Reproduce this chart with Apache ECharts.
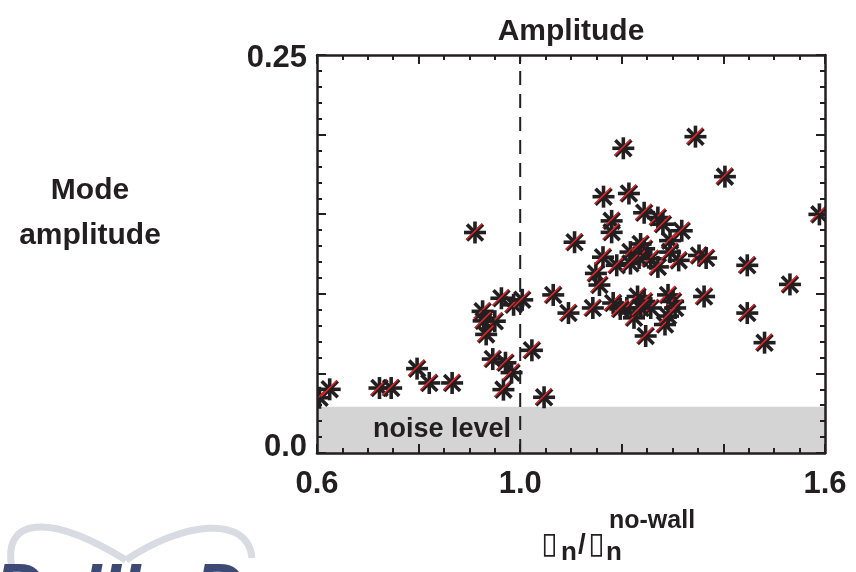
<!DOCTYPE html>
<html>
<head>
<meta charset="utf-8">
<script src="https://cdn.jsdelivr.net/npm/echarts@6/dist/echarts.min.js"></script>
<style>html,body{margin:0;padding:0;background:#fff;}#c{width:856px;height:572px;}</style>
</head>
<body>
<div id="c"></div>
<script>
// ---- data ----
const ratio = [
  0.605, 0.625, 0.723, 0.746, 0.797, 0.821, 0.866, 0.967, 0.983, 1.047, 1.023, 0.946, 0.971,
  0.911, 0.926, 0.950, 0.928, 0.933, 0.963, 0.987, 1.004,
  1.065, 1.095, 1.107, 1.143, 1.149, 1.156, 1.163, 1.164, 1.214, 1.203, 1.180, 1.180, 1.183,
  1.190, 1.210, 1.217, 1.224, 1.231, 1.244, 1.244, 1.244, 1.247, 1.257, 1.257, 1.271, 1.271,
  1.281, 1.285, 1.291, 1.295, 1.301, 1.305, 1.312, 1.318, 1.345, 1.352, 1.362, 1.366, 1.403,
  1.447, 1.447, 1.481, 1.531, 1.589,
  1.234, 1.217, 1.295, 1.237, 1.291, 1.197, 1.237
];
const amplitude = [
  0.0347, 0.0400, 0.0408, 0.0408, 0.0530, 0.0440, 0.0440, 0.0398, 0.0505, 0.0350, 0.0645, 0.0590, 0.0567,
  0.1385, 0.0890, 0.0828, 0.0830, 0.0745, 0.0972, 0.0931, 0.0962,
  0.0993, 0.0879, 0.1324, 0.0911, 0.1128, 0.1055, 0.1230, 0.1610, 0.1630, 0.1914, 0.1458, 0.1386, 0.0942,
  0.1179, 0.0911, 0.1262, 0.0849, 0.0983, 0.1509, 0.1283, 0.0952, 0.0735, 0.1220, 0.0911, 0.1479, 0.1169,
  0.1437, 0.0807, 0.0993, 0.1334, 0.0952, 0.0911, 0.1210, 0.1396, 0.1987, 0.1241, 0.0983, 0.1225, 0.1736,
  0.1179, 0.0879, 0.0693, 0.1059, 0.1499,
  0.1225, 0.1190, 0.1262, 0.0911, 0.0860, 0.0905, 0.1313
];
const xTickLabels = ['0.6', '1.0', '1.6'];
const yTickLabels = ['0.0', '0.25'];
const xRange = [0.6, 1.6];
const yRange = [0, 0.25];
const noiseLevel = 0.029;
const wallRatio = 1.0;

// ---- styling ----
const INK = '#231f20';
const RED = '#e3262b';
const FONT = "'Liberation Sans', Arial, Helvetica, sans-serif";

const points = ratio.map((x, i) => [x, amplitude[i]]);

function xAxisCfg(pos, showLabel) {
  return {
    type: 'value', position: pos, min: xRange[0], max: xRange[1], interval: 0.2, z: 10,
    axisLine: { show: true, onZero: false, lineStyle: { color: INK, width: 2.5 } },
    axisTick: { show: true, inside: true, length: 9, lineStyle: { color: INK, width: 2 } },
    minorTick: { show: true, splitNumber: 4, length: 5, lineStyle: { color: INK, width: 2 } },
    splitLine: { show: false },
    axisLabel: {
      show: showLabel, margin: 16, color: INK, fontFamily: FONT, fontWeight: 'bold', fontSize: 31,
      formatter: v => { const s = v.toFixed(1); return xTickLabels.includes(s) ? s : ''; }
    }
  };
}
function yAxisCfg(pos, showLabel) {
  return {
    type: 'value', position: pos, min: yRange[0], max: yRange[1], interval: 0.05, z: 10,
    axisLine: { show: true, onZero: false, lineStyle: { color: INK, width: 2.5 } },
    axisTick: { show: true, inside: true, length: 9, lineStyle: { color: INK, width: 2 } },
    minorTick: { show: true, splitNumber: 5, length: 5, lineStyle: { color: INK, width: 2 } },
    splitLine: { show: false },
    axisLabel: {
      show: showLabel, margin: 10, color: INK, fontFamily: FONT, fontWeight: 'bold', fontSize: 31,
      formatter: v => {
        if (Math.abs(v - yRange[0]) < 1e-9) return '{lo|' + yTickLabels[0] + '}';
        if (Math.abs(v - yRange[1]) < 1e-9) return '{hi|' + yTickLabels[1] + '}';
        return '';
      },
      rich: {
        lo: { padding: [0, 0, 12, 0], color: INK, fontFamily: FONT, fontWeight: 'bold', fontSize: 31 },
        hi: { padding: [6, 0, 0, 0], color: INK, fontFamily: FONT, fontWeight: 'bold', fontSize: 31 }
      }
    }
  };
}

const chart = echarts.init(document.getElementById('c'), null, { renderer: 'canvas' });
const option = {
  animation: false,
  backgroundColor: '#ffffff',
  title: {
    text: 'Amplitude', left: 571, top: 17, textAlign: 'center', padding: 0,
    textStyle: { color: INK, fontFamily: FONT, fontWeight: 'bold', fontSize: 30 }
  },
  grid: { left: 317, right: 31, top: 55, bottom: 119, containLabel: false },
  xAxis: [xAxisCfg('bottom', true), xAxisCfg('top', false)],
  yAxis: [yAxisCfg('left', true), yAxisCfg('right', false)],
  graphic: [
    { type: 'text', x: 90, y: 213, style: { text: 'Mode\namplitude', align: 'center', verticalAlign: 'middle',
      fontFamily: FONT, fontWeight: 'bold', fontSize: 30, lineHeight: 45, fill: INK } },
    // x-axis title
    { type: 'text', x: 541, y: 545, style: { text: '▯', align: 'left', verticalAlign: 'middle',
      fontFamily: 'DejaVu Sans', fontSize: 30, fill: INK } },
    { type: 'text', x: 561, y: 553, style: { text: 'n', align: 'left', verticalAlign: 'middle',
      fontFamily: FONT, fontWeight: 'bold', fontSize: 26, fill: INK } },
    { type: 'text', x: 578, y: 545, style: { text: '/', align: 'left', verticalAlign: 'middle',
      fontFamily: FONT, fontWeight: 'bold', fontSize: 28, fill: INK } },
    { type: 'text', x: 588, y: 545, style: { text: '▯', align: 'left', verticalAlign: 'middle',
      fontFamily: 'DejaVu Sans', fontSize: 30, fill: INK } },
    { type: 'text', x: 606, y: 553, style: { text: 'n', align: 'left', verticalAlign: 'middle',
      fontFamily: FONT, fontWeight: 'bold', fontSize: 26, fill: INK } },
    { type: 'text', x: 609, y: 521, style: { text: 'no-wall', align: 'left', verticalAlign: 'middle',
      fontFamily: FONT, fontWeight: 'bold', fontSize: 25, fill: INK } },
    // logo (partially visible at the bottom-left)
    { type: 'bezierCurve', shape: { x1: 12, y1: 568, cpx1: 2, cpy1: 520, cpx2: 45, cpy2: 510, x2: 126, y2: 560 },
      style: { stroke: '#d8dbe1', lineWidth: 7, fill: null } },
    { type: 'bezierCurve', shape: { x1: 126, y1: 560, cpx1: 182, cpy1: 522, cpx2: 248, cpy2: 514, x2: 252, y2: 558 },
      style: { stroke: '#d8dbe1', lineWidth: 7, fill: null } },
    { type: 'text', x: -6, y: 594, style: { text: 'D', verticalAlign: 'middle', fontFamily: FONT,
      fontWeight: 'bold', fontStyle: 'italic', fontSize: 70, fill: '#3e4a76' } },
    { type: 'text', x: 82, y: 594, style: { text: 'III', verticalAlign: 'middle', fontFamily: FONT,
      fontWeight: 'bold', fontStyle: 'italic', fontSize: 70, fill: '#3e4a76' } },
    { type: 'text', x: 171, y: 594, style: { text: '-D', verticalAlign: 'middle', fontFamily: FONT,
      fontWeight: 'bold', fontStyle: 'italic', fontSize: 70, fill: '#3e4a76' } }
  ],
  series: [
    {
      type: 'line', data: [], z: 1, silent: true,
      markArea: {
        silent: true,
        itemStyle: { color: '#d4d4d4' },
        label: { show: true, position: 'insideLeft', distance: 56, color: INK, fontFamily: FONT,
          fontWeight: 'bold', fontSize: 27 },
        data: [[{ name: 'noise level', xAxis: xRange[0], yAxis: 0 }, { xAxis: xRange[1], yAxis: noiseLevel }]]
      }
    },
    {
      type: 'line', data: [[wallRatio, yRange[0]], [wallRatio, yRange[1]]], symbol: 'none', z: 3, silent: true,
      lineStyle: { color: INK, width: 2, type: [14, 9] }
    },
    {
      type: 'custom', coordinateSystem: 'cartesian2d', clip: true, z: 5, silent: true,
      data: points,
      renderItem: (params, api) => {
        const c = api.coord([api.value(0), api.value(1)]);
        const R = 11, D = 8, o = 0.8;
        const blk = { stroke: INK, lineWidth: 3.6 };
        return {
          type: 'group', x: c[0], y: c[1],
          children: [
            { type: 'line', shape: { x1: -R, y1: 0, x2: R, y2: 0 }, style: blk },
            { type: 'line', shape: { x1: 0, y1: -R, x2: 0, y2: R }, style: blk },
            { type: 'line', shape: { x1: -D, y1: -D, x2: D, y2: D }, style: blk },
            { type: 'line', shape: { x1: -D, y1: D, x2: D, y2: -D }, style: blk },
            { type: 'line', shape: { x1: -D - o, y1: D - o, x2: D - o, y2: -D - o }, style: { stroke: RED, lineWidth: 1.5 } }
          ]
        };
      }
    }
  ]
};
chart.setOption(option);
</script>
</body>
</html>
